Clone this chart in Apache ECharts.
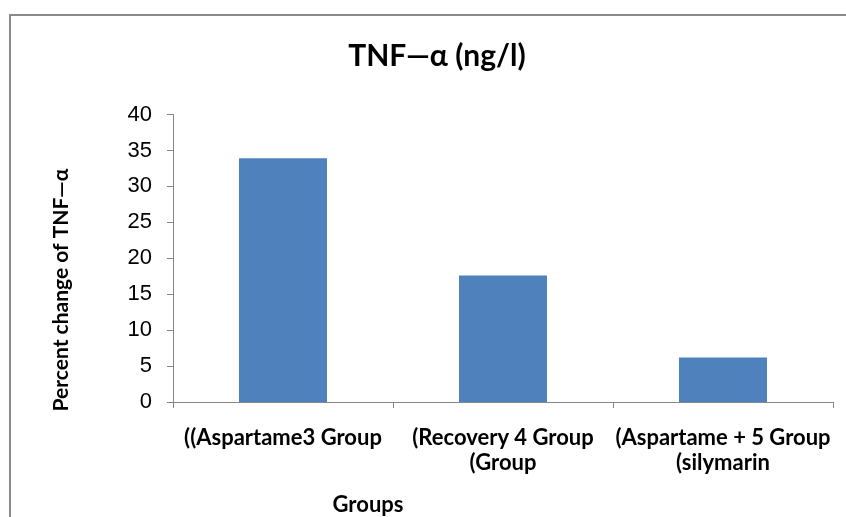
<!DOCTYPE html>
<html>
<head>
<meta charset="utf-8">
<script src="https://cdn.jsdelivr.net/npm/echarts@6/dist/echarts.min.js"></script>
<style>html,body{margin:0;padding:0;background:#fff;}#c{width:846px;height:517px;}</style>
</head>
<body>
<div id="c"></div>
<script>
const categories = ['((Aspartame3 Group', '(Recovery 4 Group\n(Group', '(Aspartame + 5 Group\n(silymarin'];
const values = [33.9, 17.6, 6.2];
const yTicks = [0, 5, 10, 15, 20, 25, 30, 35, 40];
const titleText = 'TNF\u2014\u03b1 (ng/l)';
const yName = 'Percent change of TNF\u2014\u03b1';
const xName = 'Groups';

const chart = echarts.init(document.getElementById('c'), null, {renderer: 'canvas'});
const labelFont = 'Lato, "Open Sans", sans-serif';
chart.setOption({
  animation: false,
  backgroundColor: '#fff',
  title: {
    text: titleText, left: 432, top: 36, textAlign: 'center',
    textStyle: {fontFamily: labelFont, fontWeight: 'bold', fontSize: 30, color: '#000'}
  },
  graphic: [
    {type: 'rect', shape: {x: 10, y: 15, width: 900, height: 600}, style: {fill: 'none', stroke: '#8a8a8a', lineWidth: 2}, z: 0},
    {type: 'text', x: 61, y: 290, rotation: Math.PI / 2, style: {text: yName, font: 'bold 21px ' + labelFont, fill: '#000', textAlign: 'center', textVerticalAlign: 'middle'}},
    {type: 'text', x: 368, y: 505, style: {text: xName, font: 'bold 22px ' + labelFont, fill: '#000', textAlign: 'center', textVerticalAlign: 'middle'}}
  ],
  grid: {left: 173, right: 13, top: 114.5, bottom: 115, containLabel: false},
  xAxis: {
    type: 'category', data: categories,
    axisLine: {lineStyle: {color: '#868686', width: 1}},
    axisTick: {show: true, alignWithLabel: false, length: 6, lineStyle: {color: '#868686'}},
    axisLabel: {margin: 23, fontFamily: labelFont, fontWeight: 'bold', fontSize: 22, color: '#000', lineHeight: 25, interval: 0}
  },
  yAxis: {
    type: 'value', min: 0, max: 40, interval: 5,
    axisLine: {show: true, lineStyle: {color: '#868686', width: 1}},
    axisTick: {show: true, length: 6, lineStyle: {color: '#868686'}},
    splitLine: {show: false},
    axisLabel: {margin: 21, fontFamily: '"Liberation Sans", Arial, sans-serif', fontSize: 22, color: '#000',
      formatter: v => yTicks.includes(v) ? String(v) : ''}
  },
  series: [{
    type: 'bar', data: values, barWidth: '40%',
    itemStyle: {color: '#4F81BD'}
  }]
});
</script>
</body>
</html>
